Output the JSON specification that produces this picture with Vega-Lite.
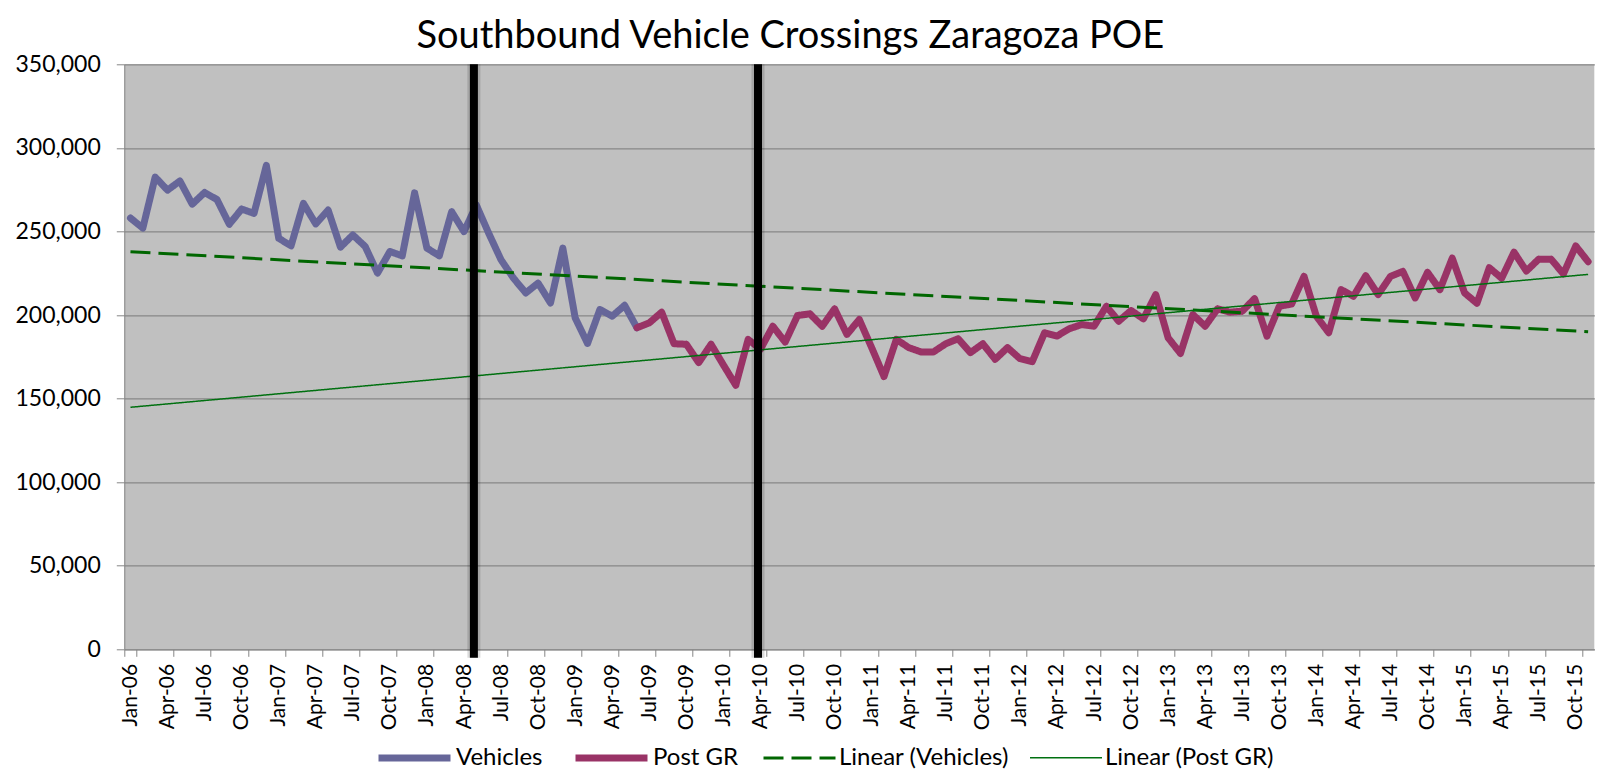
{
  "$schema": "https://vega.github.io/schema/vega-lite/v6.json",
  "width": 1470,
  "height": 585,
  "autosize": {"type": "none"},
  "padding": {"left": 124.3, "top": 64.3, "right": 5.7, "bottom": 131.7},
  "background": "white",
  "config": {
    "font": "Lato",
    "view": {"fill": "#c0c0c0", "stroke": null},
    "axis": {"labelFont": "Lato", "labelColor": "#000000", "domainColor": "#868686", "tickColor": "#868686", "domainWidth": 1, "tickWidth": 1},
    "legend": {"labelFont": "Lato"}
  },
  "title": {
    "text": "Southbound Vehicle Crossings Zaragoza POE",
    "font": "Lato",
    "fontSize": 38,
    "fontWeight": "normal",
    "color": "#000000",
    "anchor": "middle",
    "frame": "group",
    "baseline": "alphabetic",
    "offset": 13,
    "dx": -69,
    "dy": 46
  },
  "datasets": {
    "lines": [
      {"month": "Jan-06", "series": "Vehicles", "value": 258000},
      {"month": "Feb-06", "series": "Vehicles", "value": 252000},
      {"month": "Mar-06", "series": "Vehicles", "value": 282500},
      {"month": "Apr-06", "series": "Vehicles", "value": 274700},
      {"month": "May-06", "series": "Vehicles", "value": 280200},
      {"month": "Jun-06", "series": "Vehicles", "value": 266300},
      {"month": "Jul-06", "series": "Vehicles", "value": 273300},
      {"month": "Aug-06", "series": "Vehicles", "value": 269100},
      {"month": "Sep-06", "series": "Vehicles", "value": 254300},
      {"month": "Oct-06", "series": "Vehicles", "value": 263400},
      {"month": "Nov-06", "series": "Vehicles", "value": 260800},
      {"month": "Dec-06", "series": "Vehicles", "value": 289500},
      {"month": "Jan-07", "series": "Vehicles", "value": 245900},
      {"month": "Feb-07", "series": "Vehicles", "value": 241400},
      {"month": "Mar-07", "series": "Vehicles", "value": 266800},
      {"month": "Apr-07", "series": "Vehicles", "value": 254500},
      {"month": "May-07", "series": "Vehicles", "value": 262800},
      {"month": "Jun-07", "series": "Vehicles", "value": 240600},
      {"month": "Jul-07", "series": "Vehicles", "value": 247900},
      {"month": "Aug-07", "series": "Vehicles", "value": 241000},
      {"month": "Sep-07", "series": "Vehicles", "value": 225100},
      {"month": "Oct-07", "series": "Vehicles", "value": 238000},
      {"month": "Nov-07", "series": "Vehicles", "value": 235400},
      {"month": "Dec-07", "series": "Vehicles", "value": 273100},
      {"month": "Jan-08", "series": "Vehicles", "value": 240000},
      {"month": "Feb-08", "series": "Vehicles", "value": 235400},
      {"month": "Mar-08", "series": "Vehicles", "value": 261800},
      {"month": "Apr-08", "series": "Vehicles", "value": 249900},
      {"month": "May-08", "series": "Vehicles", "value": 265800},
      {"month": "Jun-08", "series": "Vehicles", "value": 248900},
      {"month": "Jul-08", "series": "Vehicles", "value": 233000},
      {"month": "Aug-08", "series": "Vehicles", "value": 222100},
      {"month": "Sep-08", "series": "Vehicles", "value": 213200},
      {"month": "Oct-08", "series": "Vehicles", "value": 219100},
      {"month": "Nov-08", "series": "Vehicles", "value": 207200},
      {"month": "Dec-08", "series": "Vehicles", "value": 240000},
      {"month": "Jan-09", "series": "Vehicles", "value": 198300},
      {"month": "Feb-09", "series": "Vehicles", "value": 183000},
      {"month": "Mar-09", "series": "Vehicles", "value": 203300},
      {"month": "Apr-09", "series": "Vehicles", "value": 199300},
      {"month": "May-09", "series": "Vehicles", "value": 205800},
      {"month": "Jun-09", "series": "Vehicles", "value": 192400},
      {"month": "Jun-09", "series": "Post GR", "value": 192400},
      {"month": "Jul-09", "series": "Post GR", "value": 195300},
      {"month": "Aug-09", "series": "Post GR", "value": 201700},
      {"month": "Sep-09", "series": "Post GR", "value": 182800},
      {"month": "Oct-09", "series": "Post GR", "value": 182500},
      {"month": "Nov-09", "series": "Post GR", "value": 171500},
      {"month": "Dec-09", "series": "Post GR", "value": 182500},
      {"month": "Jan-10", "series": "Post GR", "value": 170100},
      {"month": "Feb-10", "series": "Post GR", "value": 158000},
      {"month": "Mar-10", "series": "Post GR", "value": 185400},
      {"month": "Apr-10", "series": "Post GR", "value": 179500},
      {"month": "May-10", "series": "Post GR", "value": 193300},
      {"month": "Jun-10", "series": "Post GR", "value": 183800},
      {"month": "Jul-10", "series": "Post GR", "value": 199700},
      {"month": "Aug-10", "series": "Post GR", "value": 200700},
      {"month": "Sep-10", "series": "Post GR", "value": 193300},
      {"month": "Oct-10", "series": "Post GR", "value": 203700},
      {"month": "Nov-10", "series": "Post GR", "value": 188400},
      {"month": "Dec-10", "series": "Post GR", "value": 197300},
      {"month": "Jan-11", "series": "Post GR", "value": 180500},
      {"month": "Feb-11", "series": "Post GR", "value": 163200},
      {"month": "Mar-11", "series": "Post GR", "value": 185400},
      {"month": "Apr-11", "series": "Post GR", "value": 180500},
      {"month": "May-11", "series": "Post GR", "value": 177900},
      {"month": "Jun-11", "series": "Post GR", "value": 177900},
      {"month": "Jul-11", "series": "Post GR", "value": 182800},
      {"month": "Aug-11", "series": "Post GR", "value": 185800},
      {"month": "Sep-11", "series": "Post GR", "value": 177500},
      {"month": "Oct-11", "series": "Post GR", "value": 182800},
      {"month": "Nov-11", "series": "Post GR", "value": 173500},
      {"month": "Dec-11", "series": "Post GR", "value": 180500},
      {"month": "Jan-12", "series": "Post GR", "value": 173900},
      {"month": "Feb-12", "series": "Post GR", "value": 172100},
      {"month": "Mar-12", "series": "Post GR", "value": 189400},
      {"month": "Apr-12", "series": "Post GR", "value": 187400},
      {"month": "May-12", "series": "Post GR", "value": 191800},
      {"month": "Jun-12", "series": "Post GR", "value": 194300},
      {"month": "Jul-12", "series": "Post GR", "value": 193300},
      {"month": "Aug-12", "series": "Post GR", "value": 205200},
      {"month": "Sep-12", "series": "Post GR", "value": 196300},
      {"month": "Oct-12", "series": "Post GR", "value": 202700},
      {"month": "Nov-12", "series": "Post GR", "value": 197700},
      {"month": "Dec-12", "series": "Post GR", "value": 212200},
      {"month": "Jan-13", "series": "Post GR", "value": 186400},
      {"month": "Feb-13", "series": "Post GR", "value": 177000},
      {"month": "Mar-13", "series": "Post GR", "value": 200300},
      {"month": "Apr-13", "series": "Post GR", "value": 193300},
      {"month": "May-13", "series": "Post GR", "value": 203700},
      {"month": "Jun-13", "series": "Post GR", "value": 201700},
      {"month": "Jul-13", "series": "Post GR", "value": 202300},
      {"month": "Aug-13", "series": "Post GR", "value": 209800},
      {"month": "Sep-13", "series": "Post GR", "value": 187400},
      {"month": "Oct-13", "series": "Post GR", "value": 205200},
      {"month": "Nov-13", "series": "Post GR", "value": 206600},
      {"month": "Dec-13", "series": "Post GR", "value": 223100},
      {"month": "Jan-14", "series": "Post GR", "value": 199300},
      {"month": "Feb-14", "series": "Post GR", "value": 189400},
      {"month": "Mar-14", "series": "Post GR", "value": 215200},
      {"month": "Apr-14", "series": "Post GR", "value": 211200},
      {"month": "May-14", "series": "Post GR", "value": 223500},
      {"month": "Jun-14", "series": "Post GR", "value": 212200},
      {"month": "Jul-14", "series": "Post GR", "value": 223100},
      {"month": "Aug-14", "series": "Post GR", "value": 226100},
      {"month": "Sep-14", "series": "Post GR", "value": 210200},
      {"month": "Oct-14", "series": "Post GR", "value": 225500},
      {"month": "Nov-14", "series": "Post GR", "value": 215200},
      {"month": "Dec-14", "series": "Post GR", "value": 234000},
      {"month": "Jan-15", "series": "Post GR", "value": 213200},
      {"month": "Feb-15", "series": "Post GR", "value": 207000},
      {"month": "Mar-15", "series": "Post GR", "value": 228300},
      {"month": "Apr-15", "series": "Post GR", "value": 222000},
      {"month": "May-15", "series": "Post GR", "value": 237600},
      {"month": "Jun-15", "series": "Post GR", "value": 226300},
      {"month": "Jul-15", "series": "Post GR", "value": 233400},
      {"month": "Aug-15", "series": "Post GR", "value": 233400},
      {"month": "Sep-15", "series": "Post GR", "value": 224600},
      {"month": "Oct-15", "series": "Post GR", "value": 241300},
      {"month": "Nov-15", "series": "Post GR", "value": 231900},
      {"month": "Jan-06", "series": "Linear (Vehicles)", "value": 237900},
      {"month": "Nov-15", "series": "Linear (Vehicles)", "value": 190000},
      {"month": "Jan-06", "series": "Linear (Post GR)", "value": 144800},
      {"month": "Nov-15", "series": "Linear (Post GR)", "value": 224300}
    ],
    "markers": [
      {"month": "May-08", "value": 350000},
      {"month": "Apr-10", "value": 350000}
    ]
  },
  "layer": [
    {
      "data": {"name": "lines"},
      "encoding": {
        "x": {
          "field": "month",
          "type": "ordinal",
          "title": null,
          "scale": {
            "type": "band",
            "paddingInner": 0,
            "paddingOuter": 0,
            "domain": ["Jan-06","Feb-06","Mar-06","Apr-06","May-06","Jun-06","Jul-06","Aug-06","Sep-06","Oct-06","Nov-06","Dec-06",
                       "Jan-07","Feb-07","Mar-07","Apr-07","May-07","Jun-07","Jul-07","Aug-07","Sep-07","Oct-07","Nov-07","Dec-07",
                       "Jan-08","Feb-08","Mar-08","Apr-08","May-08","Jun-08","Jul-08","Aug-08","Sep-08","Oct-08","Nov-08","Dec-08",
                       "Jan-09","Feb-09","Mar-09","Apr-09","May-09","Jun-09","Jul-09","Aug-09","Sep-09","Oct-09","Nov-09","Dec-09",
                       "Jan-10","Feb-10","Mar-10","Apr-10","May-10","Jun-10","Jul-10","Aug-10","Sep-10","Oct-10","Nov-10","Dec-10",
                       "Jan-11","Feb-11","Mar-11","Apr-11","May-11","Jun-11","Jul-11","Aug-11","Sep-11","Oct-11","Nov-11","Dec-11",
                       "Jan-12","Feb-12","Mar-12","Apr-12","May-12","Jun-12","Jul-12","Aug-12","Sep-12","Oct-12","Nov-12","Dec-12",
                       "Jan-13","Feb-13","Mar-13","Apr-13","May-13","Jun-13","Jul-13","Aug-13","Sep-13","Oct-13","Nov-13","Dec-13",
                       "Jan-14","Feb-14","Mar-14","Apr-14","May-14","Jun-14","Jul-14","Aug-14","Sep-14","Oct-14","Nov-14","Dec-14",
                       "Jan-15","Feb-15","Mar-15","Apr-15","May-15","Jun-15","Jul-15","Aug-15","Sep-15","Oct-15","Nov-15"]
          },
          "axis": {
            "values": ["Jan-06","Apr-06","Jul-06","Oct-06","Jan-07","Apr-07","Jul-07","Oct-07","Jan-08","Apr-08","Jul-08","Oct-08",
                       "Jan-09","Apr-09","Jul-09","Oct-09","Jan-10","Apr-10","Jul-10","Oct-10","Jan-11","Apr-11","Jul-11","Oct-11",
                       "Jan-12","Apr-12","Jul-12","Oct-12","Jan-13","Apr-13","Jul-13","Oct-13","Jan-14","Apr-14","Jul-14","Oct-14",
                       "Jan-15","Apr-15","Jul-15","Oct-15"],
            "tickBand": "extent",
            "tickExtra": false,
            "labelAngle": -90,
            "labelFontSize": 21,
            "tickSize": 7,
            "labelPadding": 7,
            "grid": false
          }
        },
        "y": {
          "field": "value",
          "type": "quantitative",
          "title": null,
          "scale": {"domain": [0, 350000], "nice": false},
          "axis": {
            "values": [0, 50000, 100000, 150000, 200000, 250000, 300000, 350000],
            "format": ",d",
            "labelFontSize": 23,
            "tickSize": 8,
            "labelPadding": 16,
            "grid": true,
            "gridColor": "#878787",
            "gridWidth": 1.2
          }
        },
        "color": {
          "field": "series",
          "type": "nominal",
          "scale": {
            "domain": ["Vehicles", "Post GR", "Linear (Vehicles)", "Linear (Post GR)"],
            "range": ["#666699", "#993366", "#006600", "#007010"]
          },
          "legend": {
            "orient": "none",
            "legendX": 250.7,
            "legendY": 654,
            "direction": "horizontal",
            "title": null,
            "symbolType": "stroke",
            "symbolSize": 5184,
            "labelFontSize": 24,
            "labelColor": "#000000",
            "labelOffset": 2,
            "labelLimit": 400,
            "columnPadding": 18
          }
        },
        "strokeDash": {
          "field": "series",
          "type": "nominal",
          "scale": {
            "domain": ["Vehicles", "Post GR", "Linear (Vehicles)", "Linear (Post GR)"],
            "range": [[1, 0], [1, 0], [20, 8], [1, 0]]
          },
          "legend": {
            "orient": "none",
            "legendX": 250.7,
            "legendY": 654,
            "direction": "horizontal",
            "title": null,
            "symbolType": "stroke",
            "symbolSize": 5184,
            "labelFontSize": 24,
            "labelColor": "#000000",
            "labelOffset": 2,
            "labelLimit": 400,
            "columnPadding": 18
          }
        },
        "strokeWidth": {
          "field": "series",
          "type": "nominal",
          "scale": {
            "type": "ordinal",
            "domain": ["Vehicles", "Post GR", "Linear (Vehicles)", "Linear (Post GR)"],
            "range": [7, 7, 3, 1.5]
          },
          "legend": {
            "orient": "none",
            "legendX": 250.7,
            "legendY": 654,
            "direction": "horizontal",
            "title": null,
            "symbolType": "stroke",
            "symbolSize": 5184,
            "labelFontSize": 24,
            "labelColor": "#000000",
            "labelOffset": 2,
            "labelLimit": 400,
            "columnPadding": 18
          }
        }
      },
      "layer": [
        {
          "transform": [{"filter": "datum.series === 'Vehicles'"}],
          "mark": {"type": "line", "strokeJoin": "round", "strokeCap": "round"}
        },
        {
          "transform": [{"filter": "datum.series === 'Post GR'"}],
          "mark": {"type": "line", "strokeJoin": "round", "strokeCap": "round"}
        },
        {
          "transform": [{"filter": "datum.series === 'Linear (Vehicles)'"}],
          "mark": {"type": "line"}
        },
        {
          "transform": [{"filter": "datum.series === 'Linear (Post GR)'"}],
          "mark": {"type": "line"}
        }
      ]
    },
    {
      "data": {"name": "markers"},
      "encoding": {
        "x": {"field": "month", "type": "ordinal", "bandPosition": 0.3},
        "y": {"field": "value", "type": "quantitative"},
        "y2": {"datum": -5000}
      },
      "layer": [
        {"mark": {"type": "rule", "color": "#000000", "strokeWidth": 13, "opacity": 0.14}},
        {"mark": {"type": "rule", "color": "#000000", "strokeWidth": 8}}
      ]
    }
  ]
}
